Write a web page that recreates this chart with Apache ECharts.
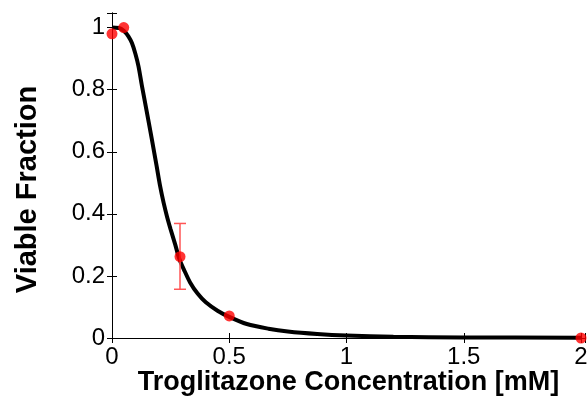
<!DOCTYPE html>
<html>
<head>
<meta charset="utf-8">
<script src="https://cdn.jsdelivr.net/npm/echarts@6/dist/echarts.min.js"></script>
<style>
  html, body { margin: 0; padding: 0; background: #fff; }
  #chart { width: 587px; height: 398px; }
</style>
</head>
<body>
<div id="chart"></div>
<script>
// fitted curve
var curveX = [0, 0.03, 0.05, 0.07, 0.085, 0.1, 0.113, 0.127, 0.148, 0.17, 0.19, 0.205, 0.22, 0.235, 0.25, 0.27, 0.287, 0.31, 0.333, 0.365, 0.4, 0.45, 0.5, 0.575, 0.667, 0.75, 0.875, 1.0, 1.2, 1.5, 2.0]
var curveY = [1.0, 0.999, 0.99, 0.972, 0.95, 0.915, 0.875, 0.815, 0.73, 0.64, 0.555, 0.49, 0.436, 0.39, 0.35, 0.3, 0.255, 0.215, 0.179, 0.143, 0.115, 0.088, 0.068, 0.045, 0.03, 0.021, 0.013, 0.008, 0.004, 0.002, 0.001]
// measured points
var pointX = [0, 0.05, 0.29, 0.5, 2.0]
var pointY = [0.98, 1.0, 0.262, 0.071, 0.0]
// error bar
var errX = [0.29]
var errLow = [0.157]
var errHigh = [0.369]

var chart = echarts.init(document.getElementById('chart'))

var tickFmt = function (step) {
  return function (v) {
    var k = v / step
    return Math.abs(k - Math.round(k)) < 1e-6 ? String(+v.toFixed(2)) : ''
  }
}

var boxAxis = {
  axisLine: { show: true, lineStyle: { color: '#000', width: 1 } },
  axisTick: { show: true, inside: true, length: 5, lineStyle: { color: '#000' } },
  splitLine: { show: false }
}

chart.setOption({
  animation: false,
  grid: { left: 112, right: 2, top: 13, bottom: 60, containLabel: false, outerBoundsMode: 'none' },
  xAxis: [
    Object.assign({
      type: 'value', min: 0, max: 2.017, interval: 0.5, position: 'bottom',
      name: 'Troglitazone Concentration [mM]',
      nameLocation: 'middle', nameGap: 31, nameMoveOverlap: false,
      nameTextStyle: { fontFamily: 'Liberation Sans', fontWeight: 'bold', fontSize: 27, color: '#000' },
      axisLabel: { formatter: tickFmt(0.5), fontFamily: 'Liberation Sans', fontSize: 24, color: '#000', margin: 7 }
    }, boxAxis),
    Object.assign({
      type: 'value', min: 0, max: 2.017, interval: 0.5, position: 'top',
      axisLabel: { show: false }
    }, boxAxis)
  ],
  yAxis: [
    Object.assign({
      type: 'value', min: 0, max: 1.047, interval: 0.2, position: 'left',
      name: 'Viable Fraction',
      nameLocation: 'middle', nameGap: 70, nameMoveOverlap: false,
      nameTextStyle: { fontFamily: 'Liberation Sans', fontWeight: 'bold', fontSize: 29, color: '#000', padding: [0, 28, 0, 0] },
      axisLabel: { formatter: tickFmt(0.2), fontFamily: 'Liberation Sans', fontSize: 24, color: '#000', margin: 7 }
    }, boxAxis),
    Object.assign({
      type: 'value', min: 0, max: 1.047, interval: 0.2, position: 'right',
      axisLabel: { show: false }
    }, boxAxis)
  ],
  series: [
    {
      type: 'line',
      data: curveX.map(function (x, i) { return [x, curveY[i]] }),
      smooth: 0.3,
      showSymbol: false,
      lineStyle: { color: '#000', width: 4 },
      z: 2
    },
    {
      type: 'custom',
      data: errX.map(function (x, i) { return [x, errLow[i], errHigh[i]] }),
      renderItem: function (params, api) {
        var lo = api.coord([api.value(0), api.value(1)])
        var hi = api.coord([api.value(0), api.value(2)])
        var cap = 6
        var style = { stroke: '#ff5555', lineWidth: 1.5 }
        return {
          type: 'group',
          children: [
            { type: 'line', shape: { x1: lo[0], y1: lo[1], x2: hi[0], y2: hi[1] }, style: style },
            { type: 'line', shape: { x1: lo[0] - cap, y1: lo[1], x2: lo[0] + cap, y2: lo[1] }, style: style },
            { type: 'line', shape: { x1: hi[0] - cap, y1: hi[1], x2: hi[0] + cap, y2: hi[1] }, style: style }
          ]
        }
      },
      z: 3
    },
    {
      type: 'scatter',
      data: pointX.map(function (x, i) { return [x, pointY[i]] }),
      symbolSize: 11,
      clip: false,
      itemStyle: { color: '#ff0000' },
      z: 4
    }
  ]
})
</script>
</body>
</html>
